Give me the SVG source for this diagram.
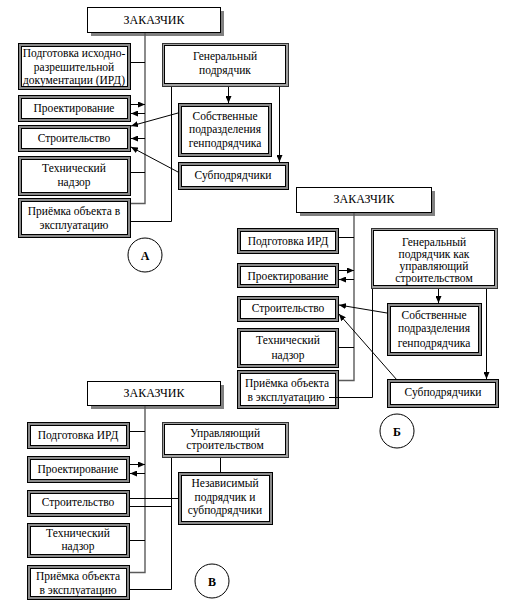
<svg xmlns="http://www.w3.org/2000/svg" width="513" height="605" viewBox="0 0 513 605">
<style>
text{font-family:"Liberation Serif","Times New Roman",serif;font-size:11.5px;fill:#000;text-anchor:middle}
.t{font-size:12px}
.o{fill:#8a8a8a;stroke:#000;stroke-width:1}
.i{fill:#fff;stroke:#000;stroke-width:1}
.g{fill:#a0a0a0;stroke:#333;stroke-width:1}
.sh{fill:#808080}
.z{fill:#fff;stroke:#000;stroke-width:1}
.c{fill:#fff;stroke:#000;stroke-width:1}
.lbl{font-weight:bold;font-size:12px}
.ln{fill:none;stroke:#000;stroke-width:1}
.tr{fill:none;stroke:#5a5a5a;stroke-width:1.4}
.ar{marker-end:url(#ah)}
</style>
<defs>
<marker id="ah" markerUnits="userSpaceOnUse" markerWidth="7" markerHeight="6" refX="7" refY="3" orient="auto">
<path d="M0,0 L7,3 L0,6 z" fill="#000"/>
</marker>
</defs>
<rect width="513" height="605" fill="#fff"/>

<!-- Diagram A -->
<g id="zak_a"><rect class="sh" x="91" y="11" width="133" height="25"/><rect class="z" x="87.5" y="7.5" width="133" height="25"/><text class="t" x="154" y="24">ЗАКАЗЧИК</text></g>
<g id="ird_a"><rect class="o" x="18.5" y="43.5" width="112" height="46"/><rect class="i" x="21.5" y="46.5" width="106" height="40"/><text x="74" y="57">Подготовка исходно-</text><text x="74" y="70.5">разрешительной</text><text x="74" y="83.5">документации (ИРД)</text></g>
<g id="proj_a"><rect class="o" x="18.5" y="95.5" width="112" height="26"/><rect class="i" x="21.5" y="98.5" width="106" height="20"/><text x="74" y="112">Проектирование</text></g>
<g id="str_a"><rect class="o" x="18.5" y="125.5" width="112" height="26"/><rect class="i" x="21.5" y="128.5" width="106" height="20"/><text x="74" y="142">Строительство</text></g>
<g id="tech_a"><rect class="o" x="18.5" y="156.5" width="112" height="39"/><rect class="i" x="21.5" y="159.5" width="106" height="33"/><text x="74" y="172">Технический</text><text x="74" y="186">надзор</text></g>
<g id="prie_a"><rect class="o" x="18.5" y="198.5" width="112" height="39"/><rect class="i" x="21.5" y="201.5" width="106" height="33"/><text x="74" y="215">Приёмка объекта в</text><text x="74" y="229">эксплуатацию</text></g>
<g id="gen_a"><rect class="g" x="162.5" y="43.5" width="126" height="43"/><rect class="i" x="164.5" y="45.5" width="121" height="38"/><text x="225" y="60">Генеральный</text><text x="225" y="74">подрядчик</text></g>
<g id="sob_a"><rect class="o" x="178.5" y="103.5" width="93" height="53"/><rect class="i" x="181.5" y="106.5" width="87" height="47"/><text x="225" y="120">Собственные</text><text x="225" y="133">подразделения</text><text x="225" y="147">генподрядчика</text></g>
<g id="sub_a"><rect class="o" x="178.5" y="162.5" width="110" height="27"/><rect class="i" x="181.5" y="165.5" width="104" height="21"/><text x="233" y="179">Субподрядчики</text></g>
<g id="lab_a"><circle class="c" cx="145" cy="255" r="17"/><text class="lbl" x="145" y="260">А</text></g>

<!-- Diagram Б -->
<g id="zak_b"><rect class="sh" x="300" y="191" width="135" height="25"/><rect class="z" x="296.5" y="187.5" width="135" height="25"/><text class="t" x="364" y="203">ЗАКАЗЧИК</text></g>
<g id="ird_b"><rect class="o" x="237.5" y="228.5" width="101" height="25"/><rect class="i" x="240.5" y="231.5" width="95" height="19"/><text x="288" y="245">Подготовка ИРД</text></g>
<g id="proj_b"><rect class="o" x="237.5" y="263.5" width="101" height="24"/><rect class="i" x="240.5" y="266.5" width="95" height="18"/><text x="288" y="280">Проектирование</text></g>
<g id="str_b"><rect class="o" x="237.5" y="296.5" width="101" height="25"/><rect class="i" x="240.5" y="299.5" width="95" height="19"/><text x="288" y="312">Строительство</text></g>
<g id="tech_b"><rect class="o" x="237.5" y="328.5" width="101" height="39"/><rect class="i" x="240.5" y="331.5" width="95" height="33"/><text x="288" y="344">Технический</text><text x="288" y="359">надзор</text></g>
<g id="prie_b"><rect class="o" x="237.5" y="370.5" width="101" height="38"/><rect class="i" x="240.5" y="373.5" width="95" height="32"/><text x="287" y="387">Приёмка объекта</text><text x="286" y="401">в эксплуатацию</text></g>
<g id="gen_b"><rect class="g" x="371.5" y="228.5" width="126" height="60"/><rect class="i" x="373.5" y="230.5" width="121" height="55"/><text x="434" y="246">Генеральный</text><text x="434" y="258">подрядчик как</text><text x="434" y="270">управляющий</text><text x="434" y="282">строительством</text></g>
<g id="sob_b"><rect class="o" x="387.5" y="303.5" width="94" height="52"/><rect class="i" x="390.5" y="306.5" width="88" height="46"/><text x="434" y="319">Собственные</text><text x="434" y="332">подразделения</text><text x="434" y="347">генподрядчика</text></g>
<g id="sub_b"><rect class="o" x="387.5" y="379.5" width="111" height="28"/><rect class="i" x="390.5" y="382.5" width="105" height="22"/><text x="443" y="396">Субподрядчики</text></g>
<g id="lab_b"><circle class="c" cx="397" cy="431" r="17"/><text class="lbl" x="397" y="436">Б</text></g>

<!-- Diagram В -->
<g id="zak_c"><rect class="sh" x="91" y="385" width="133" height="24"/><rect class="z" x="87.5" y="381.5" width="133" height="24"/><text class="t" x="154" y="397">ЗАКАЗЧИК</text></g>
<g id="ird_c"><rect class="o" x="27.5" y="422.5" width="102" height="26"/><rect class="i" x="30.5" y="425.5" width="96" height="20"/><text x="78" y="439">Подготовка ИРД</text></g>
<g id="proj_c"><rect class="o" x="27.5" y="456.5" width="102" height="26"/><rect class="i" x="30.5" y="459.5" width="96" height="20"/><text x="78" y="473">Проектирование</text></g>
<g id="str_c"><rect class="o" x="27.5" y="490.5" width="102" height="26"/><rect class="i" x="30.5" y="493.5" width="96" height="20"/><text x="78" y="506">Строительство</text></g>
<g id="tech_c"><rect class="o" x="27.5" y="523.5" width="102" height="34"/><rect class="i" x="30.5" y="526.5" width="96" height="28"/><text x="78" y="537">Технический</text><text x="78" y="550">надзор</text></g>
<g id="prie_c"><rect class="o" x="27.5" y="565.5" width="102" height="34"/><rect class="i" x="30.5" y="568.5" width="96" height="28"/><text x="78" y="580">Приёмка объекта</text><text x="78" y="594">в эксплуатацию</text></g>
<g id="upr_c"><rect class="g" x="162.5" y="422.5" width="126" height="35"/><rect class="i" x="164.5" y="424.5" width="121" height="30"/><text x="225" y="437">Управляющий</text><text x="225" y="449">строительством</text></g>
<g id="nez_c"><rect class="o" x="178.5" y="472.5" width="94" height="52"/><rect class="i" x="181.5" y="475.5" width="88" height="46"/><text x="225" y="487">Независимый</text><text x="225" y="501">подрядчик и</text><text x="225" y="514">субподрядчики</text></g>
<g id="lab_c"><circle class="c" cx="212" cy="581" r="17"/><text class="lbl" x="212" y="586">В</text></g>

<g id="connectors">
<!-- A -->
<path class="tr" d="M145,33 V203.5 H131"/>
<path class="ln" d="M131,62.5 H145"/>
<path class="ln ar" d="M131,104.5 H145"/>
<path class="ln ar" d="M145,113.5 H131"/>
<path class="ln ar" d="M145,138.5 H131"/>
<path class="ln" d="M131,172.5 H145"/>
<path class="ln" d="M171.5,87 V221.5 H131"/>
<path class="ln ar" d="M228.5,87 V103"/>
<path class="ln ar" d="M279.5,87 V162"/>
<path class="ln ar" d="M178,113 L131,126"/>
<path class="ln ar" d="M178,172 L131,147"/>
<!-- Б -->
<path class="tr" d="M354,213 V380.5 H339"/>
<path class="ln" d="M339,237.5 H354"/>
<path class="ln ar" d="M339,270.5 H354"/>
<path class="ln ar" d="M354,279.5 H339"/>
<path class="ln" d="M339,347.5 H354"/>
<path class="ln" d="M372.5,289 V397.5 H329"/>
<path class="ln ar" d="M438.5,289 V303"/>
<path class="ln ar" d="M486.5,289 V379"/>
<path class="ln ar" d="M387,313 L339,305"/>
<path class="ln ar" d="M397,380 L339,314"/>
<!-- В -->
<path class="tr" d="M145,406 V572.5 H130"/>
<path class="ln" d="M130,431.5 H145"/>
<path class="ln ar" d="M130,464.5 H145"/>
<path class="ln ar" d="M145,473.5 H130"/>
<path class="ln" d="M130,498.5 H178"/>
<path class="ln" d="M130,506.5 H171"/>
<path class="ln" d="M130,540.5 H145"/>
<path class="ln" d="M171.5,458 V589.5 H130"/>
<path class="ln" d="M220.5,458 V472"/>
</g>
</svg>
